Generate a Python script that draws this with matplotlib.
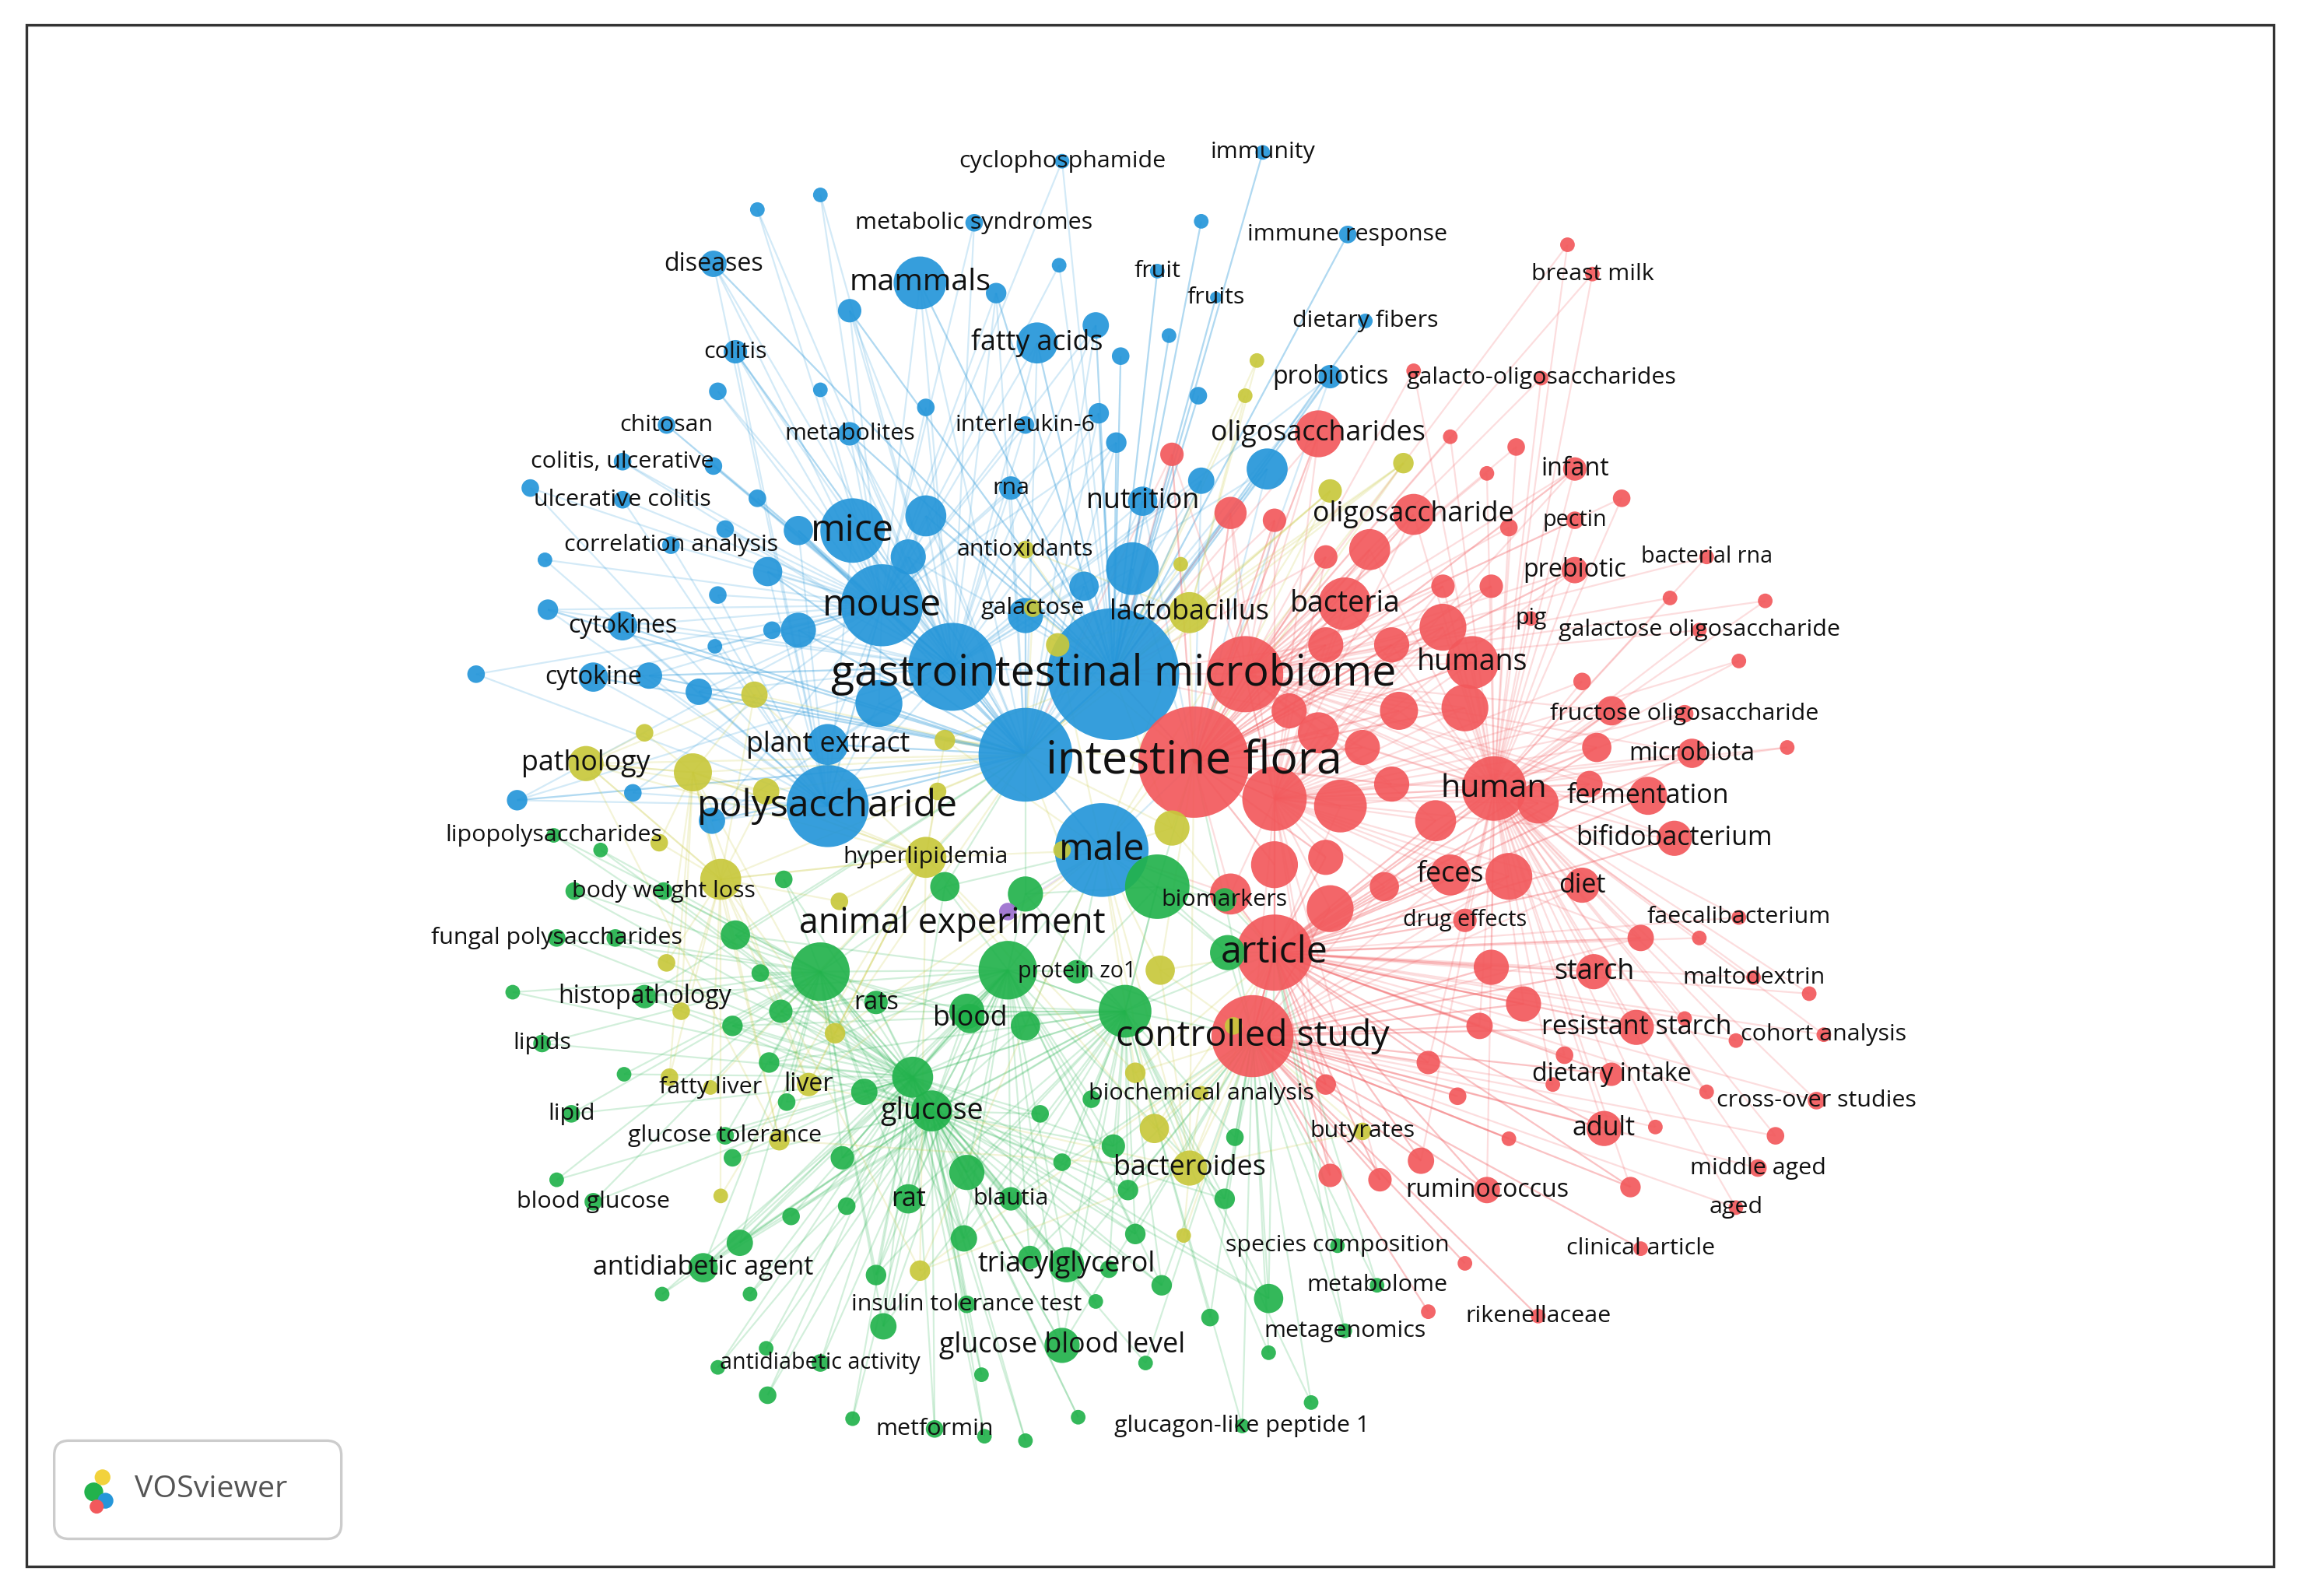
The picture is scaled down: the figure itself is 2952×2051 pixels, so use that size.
import matplotlib
matplotlib.use("Agg")
import matplotlib.pyplot as plt
from matplotlib.patches import Rectangle, FancyBboxPatch
from matplotlib.collections import LineCollection

plt.rcParams['font.family'] = ['Open Sans', 'DejaVu Sans']

# ---- data: (label, x, y, radius, label_px) ; label '' = unlabeled
blue_nodes = [
 ("gastrointestinal microbiome",760,460,45,31),("",650,455,30,0),("",700,515,32,0),
 ("mouse",602,413,28,27),("mice",582,362,22,27),("polysaccharide",565,550,28,27),
 ("male",752,580,32,27),("mammals",628,193,18,22),("plant extract",565,508,14,20),
 ("",773,388,18,0),("",632,352,14,0),("fatty acids",708,234,14,20),("nutrition",780,342,10,20),
 ("rna",690,333,8,17),("metabolites",580,296,8,17),("interleukin-6",700,290,6,17),
 ("chitosan",455,290,6,17),("colitis",502,240,8,17),("diseases",487,180,9,18),
 ("colitis, ulcerative",425,315,6,17),("ulcerative colitis",425,341,6,17),
 ("correlation analysis",458,372,6,17),("cytokines",425,427,10,18),("cytokine",405,462,10,18),
 ("cyclophosphamide",725,110,5,17),("metabolic syndromes",665,152,6,17),("immunity",862,104,5,17),
 ("immune response",920,160,6,17),("fruit",790,185,5,17),("fruits",830,203,4,17),
 ("dietary fibers",932,219,5,17),("probiotics",908,257,8,18),("",865,320,14,0),("",820,328,9,0),
 ("",517,143,5,0),("",560,133,5,0),("",820,151,5,0),("",723,181,5,0),("",580,212,8,0),
 ("",680,200,7,0),("",748,222,9,0),("",765,243,6,0),("",798,229,5,0),("",490,267,6,0),
 ("",560,266,5,0),("",632,278,6,0),("",750,282,7,0),("",818,270,6,0),("",762,302,7,0),
 ("",487,318,6,0),("",362,333,6,0),("",517,340,6,0),("",495,361,6,0),("",372,382,5,0),
 ("",545,362,10,0),("",524,390,10,0),("",490,406,6,0),("",374,416,7,0),("",527,430,6,0),
 ("",488,441,5,0),("",325,460,6,0),("",443,461,9,0),("",477,472,9,0),("",353,546,7,0),
 ("",432,541,6,0),("",486,560,9,0),("",600,480,16,0),("",620,380,12,0),("",545,430,12,0),
 ("",740,400,10,0),("",700,420,12,0),
]
red_nodes = [
 ("intestine flora",815,520,38,33),("article",870,650,26,27),("controlled study",855,707,28,26),
 ("human",1020,538,22,23),("humans",1005,452,18,21),("bacteria",918,412,18,21),
 ("oligosaccharide",965,351,14,20),("oligosaccharides",900,296,16,20),("feces",990,597,14,20),
 ("diet",1080,604,12,19),("starch",1088,663,12,20),("fermentation",1125,543,13,19),
 ("bifidobacterium",1143,572,12,19),("microbiota",1155,514,10,18),
 ("fructose oligosaccharide",1150,487,6,17),("galactose oligosaccharide",1160,430,5,17),
 ("prebiotic",1075,389,9,18),("infant",1075,320,8,18),("pectin",1075,355,6,16),
 ("bacterial rna",1165,380,5,16),("pig",1045,422,5,16),("breast milk",1087,187,5,17),
 ("galacto-oligosaccharides",1052,258,5,17),("resistant starch",1117,701,12,19),
 ("dietary intake",1100,733,8,18),("adult",1095,770,12,19),("cohort analysis",1245,706,5,17),
 ("cross-over studies",1240,751,6,17),("maltodextrin",1197,667,5,17),("faecalibacterium",1187,626,5,17),
 ("middle aged",1200,797,6,17),("aged",1185,824,5,17),("clinical article",1120,852,5,17),
 ("rikenellaceae",1050,898,5,17),("ruminococcus",1015,812,9,18),("drug effects",1000,628,8,16),
 ("",850,460,26,0),("",870,545,22,0),("",915,550,18,0),("",935,375,14,0),("",985,428,16,0),
 ("",1000,483,16,0),("",1030,598,16,0),("",1050,548,14,0),("",1018,660,12,0),("",1040,685,12,0),
 ("",908,620,16,0),("",905,585,12,0),("",870,590,16,0),("",945,605,10,0),("",950,535,12,0),
 ("",980,560,14,0),("",955,485,13,0),("",930,510,12,0),("",900,500,14,0),("",840,350,11,0),
 ("",870,355,8,0),("",800,310,8,0),("",905,380,8,0),("",950,440,12,0),("",905,440,12,0),
 ("",880,485,12,0),("",1100,485,10,0),("",1090,510,10,0),("",1085,535,9,0),("",1120,640,9,0),
 ("",1010,700,9,0),("",975,725,8,0),("",995,748,6,0),("",905,740,7,0),("",970,792,9,0),
 ("",942,805,8,0),("",908,802,8,0),("",1000,862,5,0),("",975,895,5,0),("",1030,777,5,0),
 ("",1113,810,7,0),("",1130,769,5,0),("",1212,775,6,0),("",1235,678,5,0),("",1220,510,5,0),
 ("",1187,451,5,0),("",1205,410,5,0),("",1140,408,5,0),("",1107,340,6,0),("",1035,305,6,0),
 ("",990,298,5,0),("",1015,323,5,0),("",965,253,5,0),("",1070,167,5,0),("",1030,360,6,0),
 ("",1080,465,6,0),("",1160,640,5,0),("",1150,695,5,0),("",1185,710,5,0),("",1165,745,5,0),
 ("",1068,720,6,0),("",1060,740,5,0),("",1018,400,8,0),("",985,400,8,0),("",840,610,14,0),
]
green_nodes = [
 ("animal experiment",560,663,20,25),("",790,605,22,0),("",688,662,20,0),("",768,690,18,0),
 ("",623,735,14,0),("",660,690,12,0),("",700,610,12,0),("",645,605,10,0),("",700,700,10,0),
 ("",838,650,12,0),
 ("rats",598,684,8,18),("blood",662,695,10,20),("protein zo1",735,663,8,16),("glucose",636,758,14,21),
 ("rat",620,818,10,19),("blautia",690,818,8,17),("triacylglycerol",728,863,12,20),
 ("glucose blood level",725,918,12,20),("insulin tolerance test",660,890,6,17),
 ("antidiabetic agent",480,865,10,19),("antidiabetic activity",560,930,6,16),("metformin",638,975,6,17),
 ("glucagon-like peptide 1",848,973,5,17),("metagenomics",918,908,5,17),("metabolome",940,877,5,17),
 ("species composition",913,850,5,17),("histopathology",440,680,8,18),("lipids",370,712,6,17),
 ("lipid",390,760,6,17),("glucose tolerance",495,775,6,17),("blood glucose",405,820,6,17),
 ("fungal polysaccharides",380,640,6,17),("body weight loss",453,608,6,17),
 ("lipopolysaccharides",378,570,5,17),("biomarkers",836,614,8,17),
 ("",502,638,10,0),("",533,690,8,0),("",519,664,6,0),("",500,700,7,0),("",525,725,7,0),
 ("",590,745,9,0),("",575,790,8,0),("",500,790,6,0),("",540,830,6,0),("",578,823,6,0),
 ("",505,848,9,0),("",598,870,7,0),("",603,905,9,0),("",452,883,5,0),("",512,883,5,0),
 ("",523,920,5,0),("",524,952,6,0),("",490,933,5,0),("",582,968,5,0),("",672,980,5,0),
 ("",700,983,5,0),("",736,967,5,0),("",782,930,5,0),("",793,877,7,0),("",826,899,6,0),
 ("",866,886,10,0),("",866,923,5,0),("",895,957,5,0),("",836,818,7,0),("",843,776,6,0),
 ("",760,782,8,0),("",770,812,7,0),("",725,793,6,0),("",710,760,6,0),("",745,750,6,0),
 ("",660,800,12,0),("",658,845,9,0),("",703,858,8,0),("",670,938,5,0),("",757,866,6,0),
 ("",748,888,5,0),("",775,842,7,0),("",350,677,5,0),("",426,733,5,0),("",380,805,5,0),
 ("",537,752,6,0),("",535,600,6,0),("",392,608,6,0),("",420,640,6,0),("",410,580,5,0),
]
yellow_nodes = [
 ("pathology",400,521,12,20),("",473,527,13,0),("",492,600,14,0),("",515,474,9,0),("",523,540,9,0),
 ("",450,575,6,0),("",440,500,6,0),("",455,657,6,0),("",465,690,6,0),("fatty liver",485,742,5,17),
 ("",457,735,6,0),("",532,778,7,0),("",492,816,5,0),("liver",552,740,8,18),("",570,705,7,0),
 ("",573,615,6,0),("hyperlipidemia",632,585,14,17),("",628,867,7,0),("",788,770,10,0),
 ("bacteroides",812,797,12,20),("",808,843,5,0),("",800,565,12,0),("",792,662,10,0),
 ("",842,700,6,0),("",775,732,7,0),("biochemical analysis",820,746,5,17),("butyrates",930,772,6,17),
 ("",858,246,5,0),("",850,270,5,0),("",958,316,7,0),("",908,335,8,0),("lactobacillus",812,418,14,20),
 ("",722,440,8,0),("antioxidants",700,375,6,17),("galactose",705,415,6,17),("",806,385,5,0),
 ("",725,580,6,0),("",645,505,7,0),("",640,540,6,0),
]
purple_nodes = [("",688,622,6,0)]

label_pos = {"animal experiment": (650,630), "pathology": (400,521)}

cluster_colors = {"blue": "#2596d9", "red": "#f2595c", "green": "#22b24c",
                  "yellow": "#c8c83c", "purple": "#9b6fcf"}
clusters = [("blue", blue_nodes), ("red", red_nodes), ("green", green_nodes),
            ("yellow", yellow_nodes), ("purple", purple_nodes)]

W, H = 1568, 1089
fig = plt.figure(figsize=(14.76, 10.255), dpi=200)
ax = fig.add_axes([0, 0, 1, 1])
ax.set_xlim(0, W); ax.set_ylim(H, 0); ax.axis('off')

px2pt = (2952 / W) / (200 / 72)

allnodes = []
for cname, nodes in clusters:
    for n in nodes:
        allnodes.append((cname,) + n)
hubs_by_cluster = {}
for cname, nodes in clusters:
    hubs_by_cluster[cname] = sorted(nodes, key=lambda n: -n[3])[:6]
global_hubs = [n for c in ("blue", "red") for n in hubs_by_cluster[c][:3]]
segs, cols = [], []
for (c, lab, x, y, r, fs) in allnodes:
    hubs = hubs_by_cluster[c] + global_hubs
    d = sorted(hubs, key=lambda h: (h[1]-x)**2 + (h[2]-y)**2)
    k = 2 if r < 7 else 5
    for h in d[:k]:
        if (h[1], h[2]) == (x, y):
            continue
        segs.append([(x, y), (h[1], h[2])]); cols.append(c)
for c in cluster_colors:
    ss = [s for s, cc in zip(segs, cols) if cc == c]
    if ss:
        ax.add_collection(LineCollection(ss, colors=cluster_colors[c], alpha=0.2, linewidths=0.8, zorder=1))

for (c, lab, x, y, r, fs) in sorted(allnodes, key=lambda n: -n[4]):
    ax.scatter([x], [y], s=(2 * r * px2pt) ** 2, color=cluster_colors[c], alpha=0.92,
               edgecolors='none', zorder=2)

for (c, lab, x, y, r, fs) in allnodes:
    if lab:
        lx, ly = label_pos.get(lab, (x, y))
        ax.text(lx, ly, lab, ha='center', va='center', fontsize=fs * px2pt * 0.95,
                color='#111111', zorder=3)

ax.add_patch(Rectangle((18, 17), 1534, 1052, fill=False, edgecolor='#333333', lw=1.2, zorder=5))
ax.add_patch(FancyBboxPatch((37, 983), 196, 67, boxstyle="round,pad=0,rounding_size=10",
                            fill=False, edgecolor='#cccccc', lw=1.2, zorder=5))
ax.scatter([64, 70, 72, 66], [1018, 1008, 1024, 1028], s=[60, 40, 40, 30],
           color=['#22b24c', '#f2d23c', '#2596d9', '#f2595c'], zorder=6)
ax.text(92, 1016, "VOSviewer", fontsize=22 * px2pt * 0.95, color='#555555', va='center', zorder=6)

fig.savefig("out.png", dpi=200, facecolor='white')
